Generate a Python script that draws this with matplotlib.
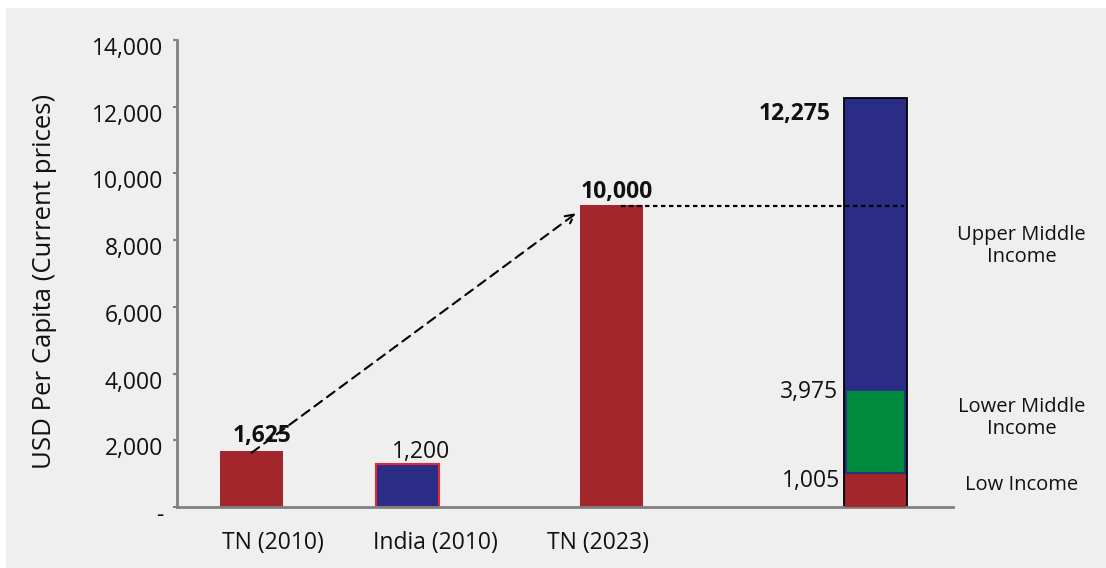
import matplotlib.pyplot as plt
from matplotlib.patches import Rectangle
from matplotlib.transforms import ScaledTranslation

# values (bar heights) and the printed labels
categories = ['TN (2010)', 'India (2010)', 'TN (2023)']
bar_values = [1680, 1280, 9060]
bar_labels = ['1,625', '1,200', '10,000']
bar_colors = ['#A3262D', '#2B2C86', '#A3262D']

# income thresholds column
stack_names = ['Low Income', 'Lower Middle\nIncome', 'Upper Middle\nIncome']
stack_values = [981, 2559, 8735]
stack_labels = ['1,005', '3,975', '12,275']
stack_colors = ['#A3262D', '#008A3E', '#2B2C86']
stack_name_y = [660, 2660, 7830]

yticks = [0, 2000, 4000, 6000, 8000, 10000, 12000, 14000]
ytick_labels = ['-', '2,000', '4,000', '6,000', '8,000', '10,000', '12,000', '14,000']

x_bars = [0, 1, 2.31]
x_stack = 4.0
x_cat_labels = [0.14, 1.18, 2.22]
width = 0.405

plt.rcParams['font.family'] = ['Open Sans', 'DejaVu Sans']

fig = plt.figure(figsize=(11.06, 5.68), dpi=100)
fig.patch.set_facecolor('white')
bg = Rectangle((6 / 1106, 0), 1100 / 1106, 560 / 568, transform=fig.transFigure,
               facecolor='#EFEFEF', edgecolor='none', zorder=-10)
fig.add_artist(bg)
ax = fig.add_axes([177 / 1106, 61 / 568, 776 / 1106, 467 / 568])
ax.patch.set_alpha(0)

# main bars
ax.bar(x_bars[0], bar_values[0], width, color=bar_colors[0], zorder=2)
ax.bar(x_bars[1], bar_values[1], width, color=bar_colors[1],
       edgecolor='#E8262D', linewidth=1.5, zorder=2)
ax.bar(x_bars[2], bar_values[2], width, color=bar_colors[2], zorder=2)

# stacked income column: outlined full column, then low and lower-middle parts
ax.bar(x_stack, sum(stack_values), width, color=stack_colors[2],
       edgecolor='black', linewidth=1.3, zorder=2)
ax.bar(x_stack, stack_values[0], width - 0.01, color=stack_colors[0], zorder=3)
ax.bar(x_stack, stack_values[1] - 60, width - 0.03, bottom=stack_values[0] + 30,
       color=stack_colors[1], edgecolor=stack_colors[2], linewidth=1.2, zorder=3)

# value labels
offsets = [(7.6, 6.5), (10, 4.3), (3.2, 4.8)]
for i in range(3):
    ax.annotate(bar_labels[i], xy=(x_bars[i], bar_values[i]), xytext=offsets[i],
                textcoords='offset points', ha='center', va='baseline',
                fontsize=16.5, fontweight='bold' if i != 1 else 'normal',
                color='#111111', zorder=5)

tops = [stack_values[0], stack_values[0] + stack_values[1], sum(stack_values)]
stack_offsets = [(-2.9, -4.6), (-4.3, -2.4), (-9.6, -11.5)]
for i in range(3):
    ax.annotate(stack_labels[i], xy=(x_stack - width / 2, tops[i]),
                xytext=stack_offsets[i], textcoords='offset points',
                ha='right', va='center', fontsize=16.5,
                fontweight='bold' if i == 2 else 'normal', color='#111111')
    ax.text(4.937, stack_name_y[i], stack_names[i], ha='center', va='center',
            fontsize=14.5, color='#111111', linespacing=1.15)

# growth arrow and threshold line
ax.annotate('', xy=(x_bars[2] - width / 2 - 0.025, bar_values[2] - 250),
            xytext=(x_bars[0], 1625),
            arrowprops=dict(arrowstyle='->', color='black', lw=1.5,
                            linestyle=(0, (4.5, 3)), mutation_scale=16,
                            shrinkA=0, shrinkB=0),
            zorder=4)
ax.hlines(bar_values[2] - 50, x_bars[2] + 0.06, x_stack + 0.18, color='black',
          linewidth=1.6, linestyles=(0, (2, 1.6)), zorder=4)

ax.set_xlim(-0.478, 4.497)
ax.set_ylim(0, 14000)
ax.set_yticks(yticks)
ax.set_yticklabels(ytick_labels)
ax.set_xticks(x_cat_labels)
ax.set_xticklabels(categories)

ax.tick_params(axis='y', length=3, width=1.5, color='#808080', pad=7,
               labelsize=16.5, labelcolor='#111111')
ax.tick_params(axis='x', length=0, pad=17, labelsize=16.5, labelcolor='#111111')
shift = ScaledTranslation(0, -6 / 100, fig.dpi_scale_trans)
for lab in ax.get_yticklabels():
    lab.set_transform(lab.get_transform() + shift)

for s in ['top', 'right']:
    ax.spines[s].set_visible(False)
for s in ['left', 'bottom']:
    ax.spines[s].set_color('#808080')
    ax.spines[s].set_linewidth(2)

ax.set_ylabel('USD Per Capita (Current prices)', fontsize=18.5, color='#111111')
ax.yaxis.set_label_coords(-0.155, 0.484)

plt.savefig('out.png', dpi=100)
plt.close()
